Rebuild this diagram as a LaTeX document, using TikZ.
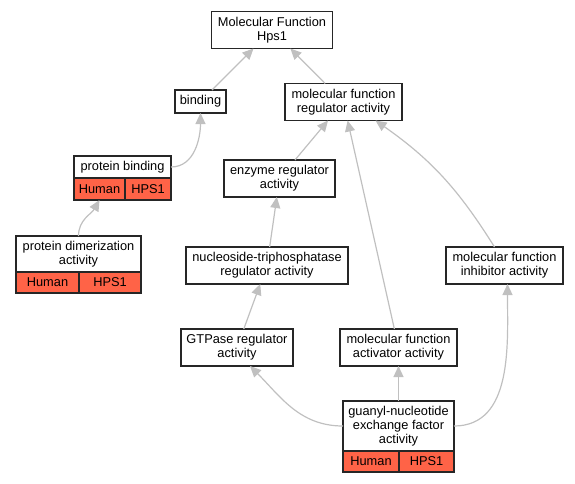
\documentclass[tikz,border=0pt]{standalone}
\usepackage{fontspec}
\setmainfont{Liberation Sans}
\usetikzlibrary{positioning,arrows.meta}
\definecolor{hitred}{RGB}{255,99,71}
\definecolor{isagray}{RGB}{192,192,192}

\begin{document}
\begin{tikzpicture}
[x=1pt,y=1pt,
term/.style={draw=black!85,line width=1.3pt,fill=white,inner sep=0pt,outer sep=0pt,
  align=center,minimum height=37pt,font=\fontsize{12.8}{14}\selectfont},
cell/.style={term,fill=hitred,minimum height=21pt},
isa/.style={draw=isagray,line width=1.2pt,-{Triangle[length=11pt,width=10pt]}}]
\useasboundingbox (0,0) rectangle (575,-483);
\node[term,minimum width=121pt](mf) at (272,-30){Molecular Function\\Hps1};
\node[term,minimum width=51pt,minimum height=23pt](binding) at (200.5,-101.5){binding};
\node[term,minimum width=117pt](mfra) at (343.5,-102){molecular function\\regulator activity};
\node[term,minimum width=97pt,minimum height=22pt](pbind) at (122.5,-167){protein binding};
\node[cell,minimum width=51pt,minimum height=22pt,below right=0pt and 0pt of pbind.south west](pbindH){Human};
\node[cell,minimum width=46pt,minimum height=22pt,right=0pt of pbindH](pbindP){HPS1};
\node[term,minimum width=111pt](enzyme) at (279.5,-178.5){enzyme regulator\\activity};
\node[term,minimum width=125pt,minimum height=36pt](dimer) at (78.5,-254){protein dimerization\\activity};
\node[cell,minimum width=63pt,below right=0pt and 0pt of dimer.south west](dimerH){Human};
\node[cell,minimum width=62pt,right=0pt of dimerH](dimerP){HPS1};
\node[term,minimum width=162pt](ntp) at (267,-265.5){nucleoside-triphosphatase\\regulator activity};
\node[term,minimum width=117pt](inhibitor) at (504.5,-265.5){molecular function\\inhibitor activity};
\node[term,minimum width=112pt](gtpase) at (237,-347.5){GTPase regulator\\activity};
\node[term,minimum width=117pt](activator) at (398.5,-347.5){molecular function\\activator activity};
\node[term,minimum width=111pt,minimum height=50pt](guanyl) at (398.5,-426){guanyl-nucleotide\\exchange factor\\activity};
\node[cell,minimum width=56pt,below right=0pt and 0pt of guanyl.south west](guanylH){Human};
\node[cell,minimum width=55pt,right=0pt of guanylH](guanylP){HPS1};
% is_a links
\draw[isa] (binding) -- (mf);
\draw[isa] (mfra) -- (mf);
\draw[isa] (pbind.east) to[out=0,in=-90] (binding.south);
\draw[isa] (dimer.north) to[out=90,in=-120] (pbindH.south);
\draw[isa] (enzyme) -- (mfra);
\draw[isa] (activator) -- (mfra);
\draw[isa] ([xshift=-10pt]inhibitor.north) to[out=122,in=-35] ([xshift=32pt]mfra.south);
\draw[isa] (ntp) -- (enzyme);
\draw[isa] (gtpase) -- (ntp);
\draw[isa] (guanyl) -- (activator);
\draw[isa] (guanyl.west) to[out=180,in=-45] ([xshift=13pt]gtpase.south);
\draw[isa] (guanyl.east) to[out=0,in=-90] ([xshift=3pt]inhibitor.south);
\end{tikzpicture}
\end{document}
